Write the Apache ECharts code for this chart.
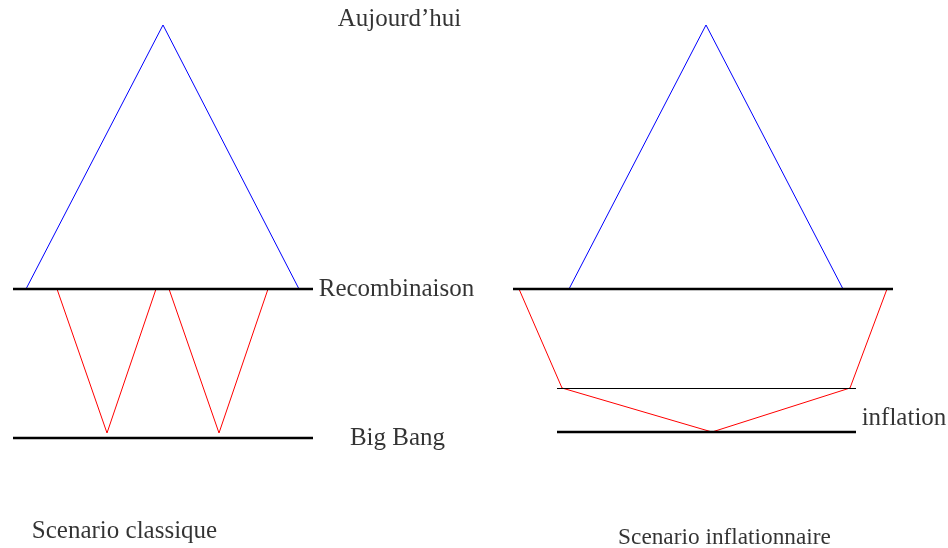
<!DOCTYPE html>
<html><head><meta charset="utf-8">
<script src="https://cdn.jsdelivr.net/npm/echarts@6/dist/echarts.min.js"></script>
<style>html,body{margin:0;padding:0;background:#fff}#c{width:948px;height:548px}</style>
</head><body><div id="c"></div>
<script>
// Diagram coordinates (diagram units: x to the right, y downward)
const blueLeft = [[26,289],[163,25],[299,289]];
const blueRight = [[569,289],[706,25],[843,289]];
const redLeft1 = [[57,289],[107,433],[156,289]];
const redLeft2 = [[169,289],[219,433],[268,289]];
const redRight = [[519,289],[562,388],[712,432],[850,388],[887,289]];
const thickLines = [
  [[13,289],[313,289]],
  [[13,438],[313,438]],
  [[513,289],[893,289]],
  [[557,432],[856,432]]
];
const thinLines = [[[557,388.5],[856,388.5]]];
const labels = [
  {name:"Aujourd’hui", pos:[399.5,19], size:25},
  {name:"Recombinaison", pos:[396.5,289], size:25},
  {name:"Big Bang", pos:[397.5,438], size:25},
  {name:"inflation", pos:[904,418], size:25},
  {name:"Scenario classique", pos:[124.5,531], size:25},
  {name:"Scenario inflationnaire", pos:[724.5,538], size:23.3}
];

const series = [];
function line(data, color, width){
  series.push({type:'line', data:data, symbol:'none', silent:true, animation:false,
    lineStyle:{color:color, width:width}, z: width>1?3:2});
}
line(blueLeft,'#0000ff',1);
line(blueRight,'#0000ff',1);
line(redLeft1,'#ff0000',1);
line(redLeft2,'#ff0000',1);
line(redRight,'#ff0000',1);
thickLines.forEach(d=>line(d,'#000000',2.5));
thinLines.forEach(d=>line(d,'#000000',1));
series.push({type:'scatter', symbolSize:0, animation:false, silent:true,
  data: labels.map(l=>({name:l.name, value:l.pos, label:{fontSize:l.size}})),
  label:{show:true, position:'inside', formatter:p=>p.name, color:'#000',
    textBorderWidth:0, fontFamily:'Liberation Serif', fontSize:25,
    align:'center', verticalAlign:'middle'}
});

const chart = echarts.init(document.getElementById('c'));
chart.setOption({
  backgroundColor:'#fff',
  grid:{left:0,right:0,top:0,bottom:0},
  xAxis:{type:'value', min:0, max:948, show:false},
  yAxis:{type:'value', min:0, max:548, inverse:true, show:false},
  series: series
});
</script></body></html>
